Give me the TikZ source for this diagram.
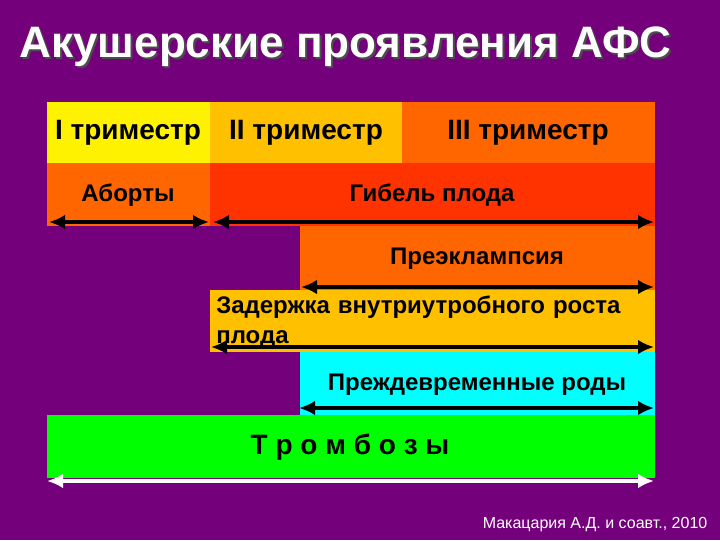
\documentclass[tikz,border=0pt]{standalone}
\usepackage{fontspec}
\setmainfont{Liberation Sans}
\usetikzlibrary{arrows.meta}
\definecolor{bgp}{HTML}{74007C}
\definecolor{gold}{HTML}{FFC000}
\definecolor{org}{HTML}{FF6600}
\definecolor{redo}{HTML}{FF3300}
\definecolor{cy}{HTML}{00FFFF}
\begin{document}
\begin{tikzpicture}[x=0.75pt,y=-0.75pt,
  lab/.style={font=\bfseries\fontsize{18}{21}\selectfont},
  tri/.style={font=\bfseries\fontsize{21}{24}\selectfont},
  dbl/.style={{Latex[length=12pt,width=11pt]}-{Latex[length=12pt,width=11pt]},line width=3.5pt}]
\fill[bgp] (0,0) rectangle (720,540);
\useasboundingbox (0,0) rectangle (720,540);
\node[anchor=west,text=black!70,font=\bfseries\fontsize{33}{36}\selectfont] at (17,49) {Акушерские проявления АФС};
\node[anchor=west,text=white,font=\bfseries\fontsize{33}{36}\selectfont] (title) at (15,47) {Акушерские проявления АФС};
\fill[yellow] (47,102) rectangle (210,163);
\fill[gold] (210,102) rectangle (402,163);
\fill[org] (402,102) rectangle (655,163);
\fill[org] (47,163) rectangle (210,226);
\fill[redo] (210,163) rectangle (655,226);
\fill[org] (300,226) rectangle (655,290);
\fill[gold] (210,290) rectangle (655,352);
\fill[cy] (300,352) rectangle (655,415);
\fill[green] (47,415) rectangle (655,478);
\node[tri] (t1) at (128,133) {I триместр};
\node[tri] (t2) at (306,133) {II триместр};
\node[tri] (t3) at (528,133) {III триместр};
\node[lab] (ab) at (128,195) {Аборты};
\node[lab] (gp) at (432,195) {Гибель плода};
\node[lab] (pr) at (477,259) {Преэклампсия};
\node[lab,anchor=north west,align=left,inner sep=0pt,text width=325pt,font=\bfseries\fontsize{18}{22}\selectfont] (zd) at (216,296) {Задержка внутриутробного роста плода};
\node[lab] (pd) at (477,385) {Преждевременные роды};
\node[lab,font=\bfseries\fontsize{21}{24}\selectfont] (tr) at (350,447) {Т р о м б о з ы};
\node[anchor=east,text=white,font=\fontsize{12}{14}\selectfont] (cr) at (712,525) {Макацария А.Д. и соавт., 2010};
\coordinate (a1) at (49,222); \coordinate (a2) at (209,222);
\coordinate (b1) at (213,222); \coordinate (b2) at (654,222);
\coordinate (c1) at (301,287); \coordinate (c2) at (654,287);
\coordinate (d1) at (211,347); \coordinate (d2) at (654,347);
\coordinate (e1) at (299,408); \coordinate (e2) at (654,408);
\coordinate (f1) at (47,481); \coordinate (f2) at (654,481);
\draw[dbl] (a1) -- (a2);
\draw[dbl] (b1) -- (b2);
\draw[dbl] (c1) -- (c2);
\draw[dbl] (d1) -- (d2);
\draw[dbl] (e1) -- (e2);
\draw[dbl,white] (f1) -- (f2);
\end{tikzpicture}
\end{document}
